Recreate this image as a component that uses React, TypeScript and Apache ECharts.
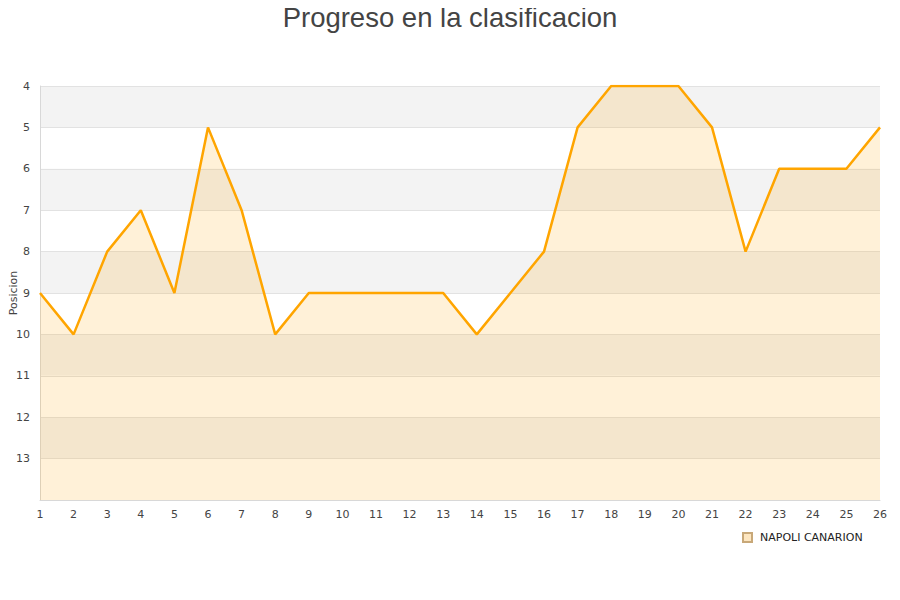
import React, { useEffect, useRef } from "react";
import * as echarts from "echarts";

const rounds: string[] = [
  "1", "2", "3", "4", "5", "6", "7", "8", "9", "10", "11", "12", "13",
  "14", "15", "16", "17", "18", "19", "20", "21", "22", "23", "24", "25", "26",
];
const positions: number[] = [
  9, 10, 8, 7, 9, 5, 7, 10, 9, 9, 9, 9, 9, 10, 9, 8, 5, 4, 4, 4, 5, 8, 6, 6, 6, 5,
];
const teamName = "NAPOLI CANARION";
const chartTitle = "Progreso en la clasificacion";
const yAxisName = "Posicion";

export default function App() {
  const ref = useRef<HTMLDivElement>(null);
  useEffect(() => {
    if (!ref.current) return;
    const chart = echarts.init(ref.current, undefined, { renderer: "svg" });
    chart.setOption({
      animation: false,
      title: {
        text: chartTitle,
        left: "center",
        top: 2,
        padding: 0,
        textStyle: {
          fontFamily: "Liberation Sans",
          fontSize: 27.5,
          lineHeight: 30,
          fontWeight: "normal",
          color: "#444",
        },
      },
      legend: {
        data: [teamName],
        left: 737,
        top: 527,
        icon: "rect",
        itemWidth: 9,
        itemHeight: 9,
        itemGap: 5,
        textStyle: { fontFamily: "DejaVu Sans", fontSize: 11, color: "#222", padding: [0, 0, 0, 3] },
      },
      grid: { left: 40, right: 20, top: 86, bottom: 100, containLabel: false, outerBoundsMode: "none" },
      xAxis: {
        type: "category",
        data: rounds,
        boundaryGap: false,
        axisLine: { show: true, lineStyle: { color: "#d8d8d8" } },
        axisTick: { show: false },
        axisLabel: {
          fontFamily: "DejaVu Sans",
          fontSize: 11,
          color: "#444",
          margin: 9,
          interval: 0,
        },
        splitLine: { show: false },
      },
      yAxis: {
        type: "value",
        inverse: true,
        min: 4,
        max: 14,
        interval: 1,
        name: yAxisName,
        nameLocation: "middle",
        nameGap: 21,
        nameMoveOverlap: false,
        nameTextStyle: { fontFamily: "DejaVu Sans", fontSize: 11, color: "#444" },
        axisLine: { show: true, lineStyle: { color: "#d8d8d8" } },
        axisTick: { show: false },
        axisLabel: {
          fontFamily: "DejaVu Sans",
          fontSize: 11,
          color: "#444",
          margin: 10,
          formatter: (v: number) => (v === 14 ? "" : String(v)),
        },
        splitLine: { show: true, lineStyle: { color: "#e2e2e2" } },
        splitArea: { show: true, areaStyle: { color: ["#f3f3f3", "#ffffff"] } },
      },
      series: [
        {
          name: teamName,
          type: "line",
          data: positions,
          symbol: "none",
          lineStyle: { color: "#FFA500", width: 2.5 },
          itemStyle: { color: "#fde6c0", borderColor: "#c8a878", borderWidth: 1 },
          areaStyle: { color: "rgba(255,165,0,0.22)", origin: "end" },
        },
      ],
    });
    return () => chart.dispose();
  }, []);
  return <div ref={ref} style={{ width: 900, height: 600, margin: -8 }} />;
}
